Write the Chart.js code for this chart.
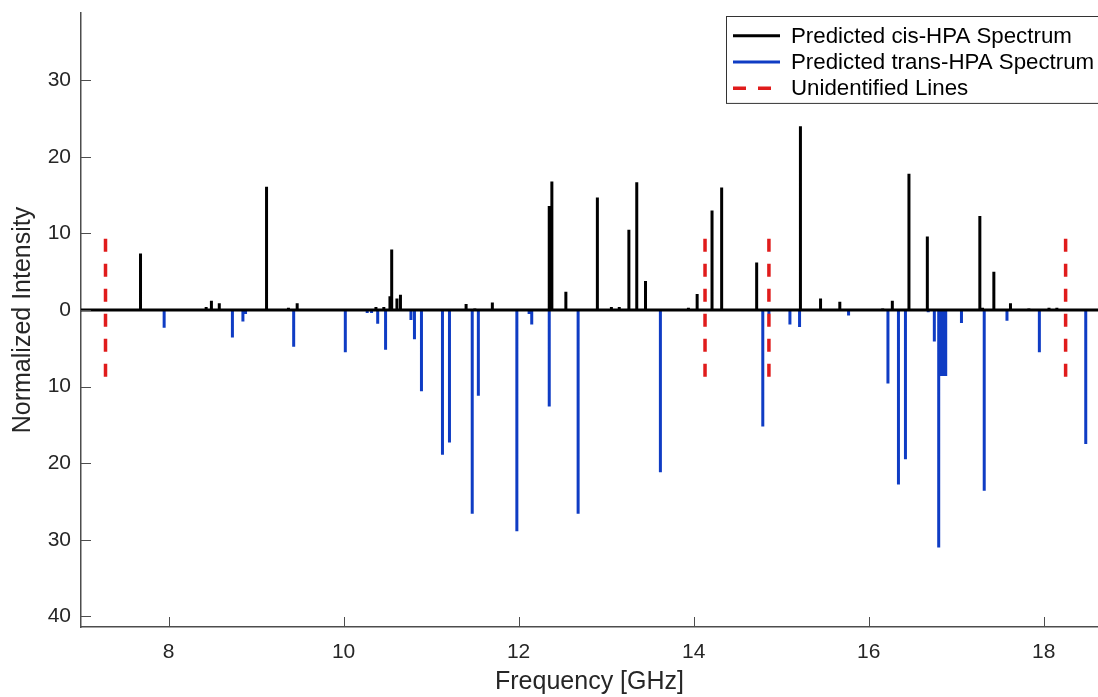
<!DOCTYPE html>
<html>
<head>
<meta charset="utf-8">
<script src="https://cdn.jsdelivr.net/npm/chart.js@4.4.1/dist/chart.umd.min.js"></script>
<style>
html,body{margin:0;padding:0;background:#fff;}
#wrap{position:relative;width:1098px;height:697px;}
</style>
</head>
<body>
<div id="wrap"><canvas id="chart" width="1098" height="697"></canvas></div>
<script>
// stick positions [GHz] and normalized intensities
const cisFreq=[7.68,8.43,8.49,8.58,9.12,9.37,9.47,10.37,10.46,10.53,10.55,10.61,10.65,11.40,11.50,11.70,12.35,12.38,12.54,12.90,13.06,13.15,13.26,13.35,13.45,13.94,14.04,14.21,14.32,14.72,15.22,15.45,15.67,16.16,16.27,16.46,16.67,17.27,17.30,17.43,17.62,17.83,18.06,18.15];
const cisInt=[7.4,0.4,1.2,0.9,16.1,0.3,0.9,0.4,0.4,1.8,7.9,1.5,2.0,0.8,0.2,1.0,13.6,16.8,2.4,14.7,0.4,0.4,10.5,16.7,3.8,0.3,2.1,13.0,16.0,6.2,24.0,1.5,1.1,0.2,1.2,17.8,9.6,12.3,0.3,5.0,0.9,0.2,0.3,0.3];
const transFreq=[7.95,8.73,8.85,8.88,9.43,10.02,10.27,10.32,10.39,10.48,10.77,10.81,10.89,11.13,11.21,11.47,11.54,11.98,12.12,12.15,12.35,12.68,13.62,14.79,14.86,15.10,15.21,15.77,16.22,16.34,16.42,16.68,16.75,16.80,16.82,16.85,16.88,17.06,17.32,17.58,17.95,18.48];
const transInt=[-2.3,-3.6,-1.5,-0.5,-4.8,-5.5,-0.4,-0.4,-1.8,-5.2,-1.3,-3.8,-10.6,-18.9,-17.3,-26.6,-11.2,-28.9,-0.5,-1.9,-12.6,-26.6,-21.2,-15.2,-0.5,-1.9,-2.2,-0.7,-9.6,-22.8,-19.5,-0.3,-4.1,-31.0,-8.6,-8.6,-8.6,-1.7,-23.6,-1.4,-5.5,-17.5];
const unidFreq=[7.28,14.13,14.86,18.25];
const unidTop=9.3, unidBottom=-10;

const xTicks=[8,10,12,14,16,18];
const yTicks=[-40,-30,-20,-10,0,10,20,30];
const xRange=[7,18.62];
const yRange=[-41.4,38.8];

const FONT="'Liberation Sans', Arial, sans-serif";
const TXT="#262626";
const AXIS="#4d4d4d";

function sticks(freqs,tops,bottoms){
 let pts=[];
 freqs.forEach((f,i)=>{
  let lo=bottoms?bottoms[i]:0;
  pts.push({x:f,y:tops[i]},{x:f,y:lo},{x:f,y:null});
 });
 return pts;
}

// ticks pointing into the plot, like the original
const inwardTicks={
 id:"inwardTicks",
 afterDatasetsDraw(chart){
  const {ctx,chartArea:a,scales:{x,y}}=chart;
  ctx.save();
  ctx.strokeStyle=AXIS;
  ctx.lineWidth=1;
  x.ticks.forEach(t=>{
   let p=Math.round(x.getPixelForValue(t.value))+0.5;
   ctx.beginPath();ctx.moveTo(p,a.bottom);ctx.lineTo(p,a.bottom-10);ctx.stroke();
  });
  y.ticks.forEach(t=>{
   let p=Math.round(y.getPixelForValue(t.value))+0.5;
   ctx.beginPath();ctx.moveTo(a.left,p);ctx.lineTo(a.left+10,p);ctx.stroke();
  });
  ctx.restore();
 }
};

// boxed legend in the top right corner
const boxLegend={
 id:"boxLegend",
 afterDraw(chart){
  const ctx=chart.ctx;
  const items=chart.data.datasets.filter(d=>d.label);
  const bx=726.5,by=16.5,bw=380,rowH=26.3;
  const bh=items.length*rowH+8;
  ctx.save();
  ctx.fillStyle="#fff";
  ctx.fillRect(bx,by,bw,bh);
  ctx.strokeStyle="#333";
  ctx.lineWidth=1;
  ctx.strokeRect(bx,by,bw,bh);
  ctx.font="22.3px "+FONT;
  ctx.textBaseline="middle";
  items.forEach((d,i)=>{
   let cy=by+6+rowH*(i+0.5);
   ctx.strokeStyle=d.borderColor;
   ctx.lineWidth=d.borderWidth;
   ctx.setLineDash(d.borderDash||[]);
   ctx.beginPath();ctx.moveTo(733,cy);ctx.lineTo(780,cy);ctx.stroke();
   ctx.setLineDash([]);
   ctx.fillStyle="#000";
   ctx.fillText(d.label,791,cy+1);
  });
  ctx.restore();
 }
};

new Chart(document.getElementById("chart"),{
 type:"line",
 data:{
  datasets:[
   {label:"Predicted cis-HPA Spectrum",data:sticks(cisFreq,cisInt),borderColor:"#000",borderWidth:3,order:2},
   {label:"Predicted trans-HPA Spectrum",data:sticks(transFreq,transInt),borderColor:"#0f3cc4",borderWidth:3,order:3},
   {label:"Unidentified Lines",data:sticks(unidFreq,unidFreq.map(()=>unidTop),unidFreq.map(()=>unidBottom)),borderColor:"#e01b1b",borderWidth:3.5,borderDash:[13,12],order:0},
   {label:"",data:[{x:xRange[0],y:0},{x:xRange[1],y:0}],borderColor:"#000",borderWidth:3,order:1}
  ]
 },
 options:{
  responsive:false,
  animation:false,
  devicePixelRatio:1,
  spanGaps:false,
  elements:{point:{radius:0},line:{tension:0,borderCapStyle:"butt"}},
  layout:{padding:{top:13,right:0,left:0,bottom:0}},
  plugins:{legend:{display:false},tooltip:{enabled:false}},
  scales:{
   x:{
    type:"linear",min:xRange[0],max:xRange[1],
    afterBuildTicks:s=>{s.ticks=xTicks.map(v=>({value:v}));},
    afterFit:s=>{s.height=70;s.paddingLeft=0;s.paddingRight=0;},
    grid:{display:false,drawTicks:false},
    border:{display:true,color:AXIS,width:1.5},
    ticks:{color:TXT,font:{family:FONT,size:21},padding:13,maxRotation:0,autoSkip:false},
    title:{display:true,text:"Frequency [GHz]",color:TXT,font:{family:FONT,size:25},padding:{top:0,bottom:0}}
   },
   y:{
    type:"linear",min:yRange[0],max:yRange[1],
    afterBuildTicks:s=>{s.ticks=yTicks.map(v=>({value:v}));},
    afterFit:s=>{s.width=81;s.paddingTop=0;s.paddingBottom=0;},
    grid:{display:false,drawTicks:false},
    border:{display:true,color:AXIS,width:1.5},
    ticks:{color:TXT,font:{family:FONT,size:21},padding:10,autoSkip:false,callback:v=>String(Math.abs(v))},
    title:{display:true,text:"Normalized Intensity",color:TXT,font:{family:FONT,size:25},padding:{top:8,bottom:0}}
   }
  }
 },
 plugins:[inwardTicks,boxLegend]
});
</script>
</body>
</html>
